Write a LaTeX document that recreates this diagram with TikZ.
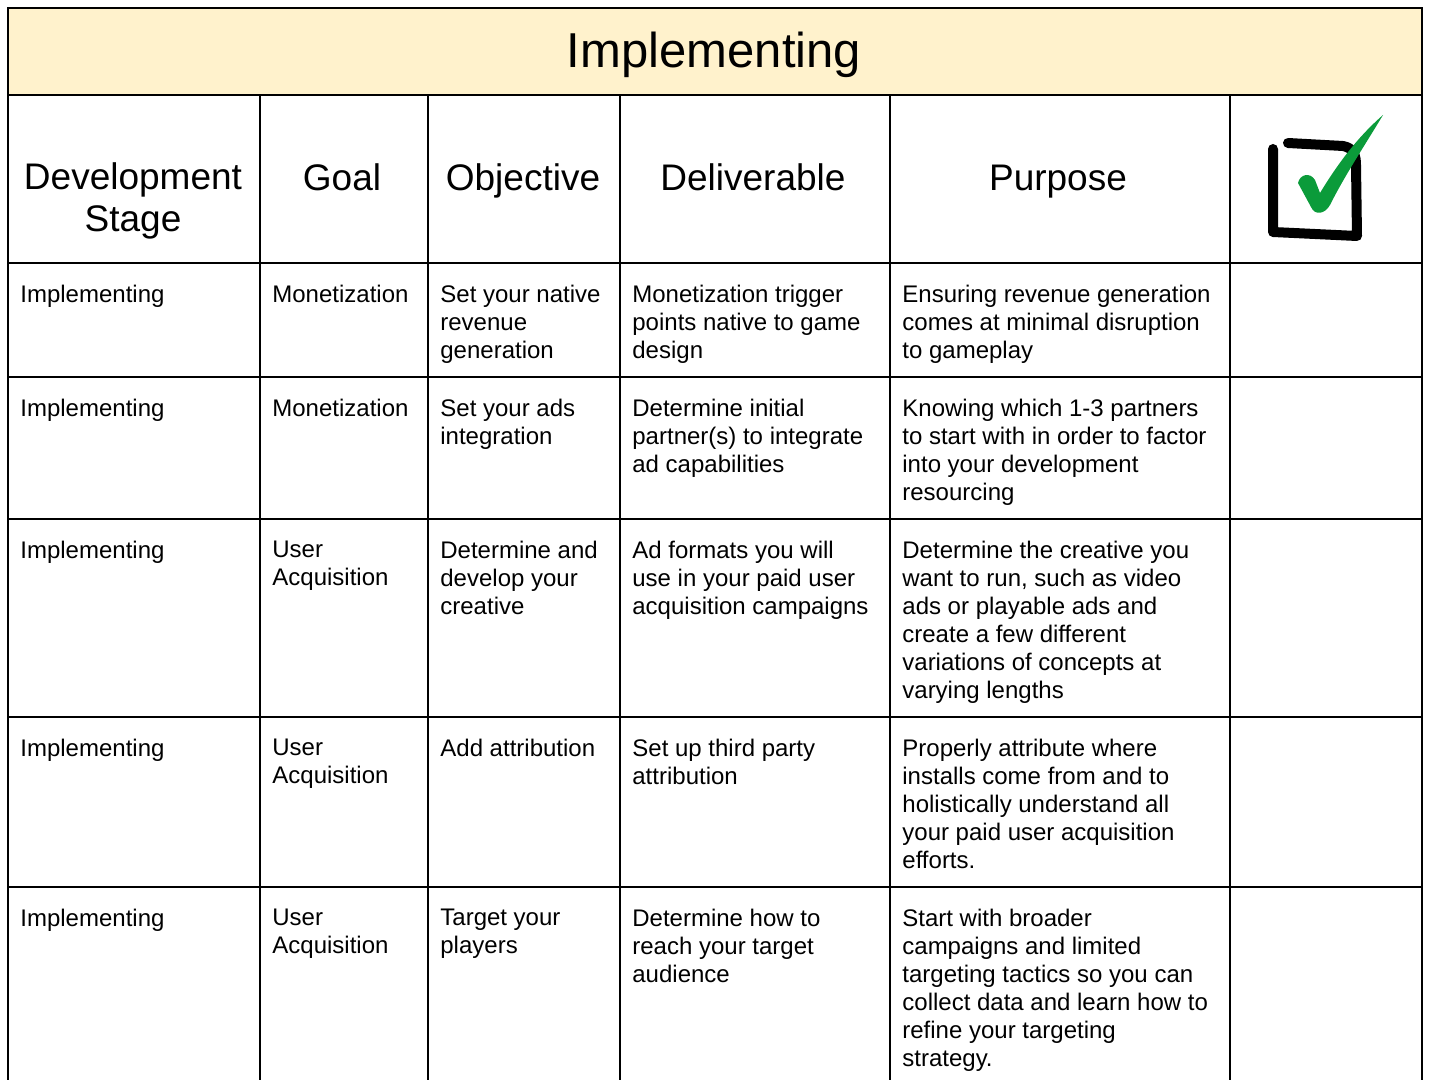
\documentclass[tikz,border=0pt]{standalone}
\usepackage{fontspec}
\setmainfont{Liberation Sans}
\definecolor{titlefill}{HTML}{FFF2CC}
\definecolor{tickgreen}{HTML}{0B9B3A}

\begin{document}
\begin{tikzpicture}[x=0.5pt,y=-0.5pt,
  cell/.style={anchor=north west,inner sep=0pt,align=left,
    font=\fontsize{12}{14}\selectfont,execute at begin node=\strut},
  head/.style={anchor=north,inner sep=0pt,align=center,
    font=\fontsize{18.5}{21}\selectfont,execute at begin node=\strut},
  multi/.style={yshift=-1pt},
  rule/.style={line width=1pt}]

  \useasboundingbox (0,0) rectangle (1431,1080);

  % title band and grid
  \fill[titlefill] (8,8) rectangle (1422,95);
  \draw[rule] (8,1080) -- (8,8) -- (1422,8) -- (1422,1080);
  \foreach \y in {95,263,377,519,717,887}
    \draw[rule] (8,\y) -- (1422,\y);
  \foreach \x in {260,428,620,890,1230}
    \draw[rule] (\x,95) -- (\x,1080);

  \draw (714,68) node[anchor=base,inner sep=0pt,font=\fontsize{24.5}{28}\selectfont] (title) {Implementing};

  % header row
  \draw (133,160.6) node[head,multi] (hstage) {Development\\Stage};
  \draw (342,160.6) node[head] (hgoal) {Goal};
  \draw (523,160.6) node[head] (hobj) {Objective};
  \draw (753,160.6) node[head] (hdel) {Deliverable};
  \draw (1058,160.6) node[head] (hpur) {Purpose};

  % check box
  \draw[line width=5pt,line join=round,line cap=round]
    (1288,143) -- (1343,146) .. controls (1354,148) and (1356,156) .. (1356,165)
    -- (1357,236) -- (1273,232) -- (1273,149);
  \fill[tickgreen] (1298,183) .. controls (1300,174) and (1310,172) .. (1315,180)
    -- (1320,193) .. controls (1340,160) and (1360,135) .. (1383,115)
    .. controls (1365,145) and (1345,175) .. (1330,205)
    .. controls (1325,214) and (1315,216) .. (1311,207) -- cycle;

  % row 1
  \draw (20,282.4) node[cell] (s1) {Implementing};
  \draw (272,282.4) node[cell] (g1) {Monetization};
  \draw (440,282.4) node[cell,multi] (o1) {Set your native\\revenue\\generation};
  \draw (632,282.4) node[cell,multi] (d1) {Monetization trigger\\points native to game\\design};
  \draw (902,282.4) node[cell,multi] (p1) {Ensuring revenue generation\\comes at minimal disruption\\to gameplay};

  % row 2
  \draw (20,396.4) node[cell] (s2) {Implementing};
  \draw (272,396.4) node[cell] (g2) {Monetization};
  \draw (440,396.4) node[cell,multi] (o2) {Set your ads\\integration};
  \draw (632,396.4) node[cell,multi] (d2) {Determine initial\\partner(s) to integrate\\ad capabilities};
  \draw (902,396.4) node[cell,multi] (p2) {Knowing which 1-3 partners\\to start with in order to factor\\into your development\\resourcing};

  % row 3
  \draw (20,538.4) node[cell] (s3) {Implementing};
  \draw (272,538.4) node[cell,multi] (g3) {User\\Acquisition};
  \draw (440,538.4) node[cell,multi] (o3) {Determine and\\develop your\\creative};
  \draw (632,538.4) node[cell,multi] (d3) {Ad formats you will\\use in your paid user\\acquisition campaigns};
  \draw (902,538.4) node[cell,multi] (p3) {Determine the creative you\\want to run, such as video\\ads or playable ads and\\create a few different\\variations of concepts at\\varying lengths};

  % row 4
  \draw (20,736.4) node[cell] (s4) {Implementing};
  \draw (272,736.4) node[cell,multi] (g4) {User\\Acquisition};
  \draw (440,736.4) node[cell] (o4) {Add attribution};
  \draw (632,736.4) node[cell,multi] (d4) {Set up third party\\attribution};
  \draw (902,736.4) node[cell,multi] (p4) {Properly attribute where\\installs come from and to\\holistically understand all\\your paid user acquisition\\efforts.};

  % row 5
  \draw (20,906.4) node[cell] (s5) {Implementing};
  \draw (272,906.4) node[cell,multi] (g5) {User\\Acquisition};
  \draw (440,906.4) node[cell,multi] (o5) {Target your\\players};
  \draw (632,906.4) node[cell,multi] (d5) {Determine how to\\reach your target\\audience};
  \draw (902,906.4) node[cell,multi] (p5) {Start with broader\\campaigns and limited\\targeting tactics so you can\\collect data and learn how to\\refine your targeting\\strategy.};

\end{tikzpicture}
\end{document}
